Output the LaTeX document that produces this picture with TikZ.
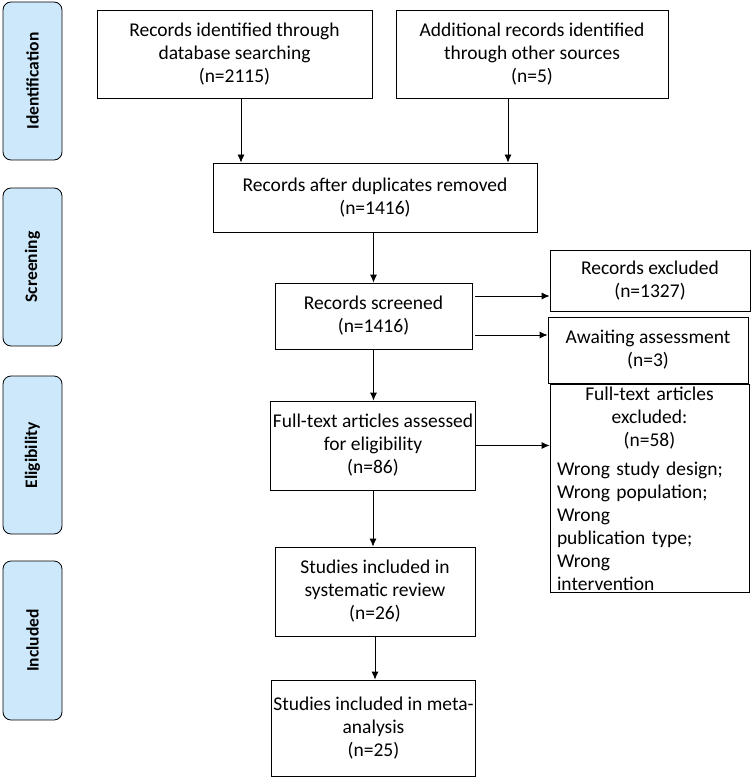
\documentclass[tikz,border=0pt]{standalone}
\usepackage{fontspec}
\setmainfont{Carlito}
\usetikzlibrary{arrows.meta}
\definecolor{phase}{RGB}{204,232,250}
\tikzset{
  box/.style={draw=black,thick,align=center,inner sep=2pt,
    font=\fontsize{19.5}{23}\selectfont},
  side/.style={draw=black,thick,rounded corners=8pt,fill=phase,rotate=90,
    font=\fontsize{17.5}{20}\selectfont\bfseries,minimum height=59pt},
  arr/.style={-{Latex[length=8pt,width=7pt]},thick}
}
\begin{document}
\begin{tikzpicture}[x=1pt,y=-1pt]
  \useasboundingbox (0,0) rectangle (752,778);

  \node[side,minimum width=158pt] (P1) at (32.5, 81) {Identification};
  \node[side,minimum width=158pt] (P2) at (32.5, 267) {Screening};
  \node[side,minimum width=158pt] (P3) at (32.5, 455) {Eligibility};
  \node[side,minimum width=159pt] (P4) at (32.5, 640.5) {Included};

  \node[box,minimum width=275pt,minimum height=88pt] (A) at (234.5, 54) {Records identified through\\database searching\\(n=2115)};
  \node[box,minimum width=272pt,minimum height=88pt] (B) at (532, 54) {Additional records identified\\through other sources\\(n=5)};
  \node[box,minimum width=324pt,minimum height=69pt] (C) at (375, 197.5) {Records after duplicates removed\\(n=1416)};
  \node[box,minimum width=197pt,minimum height=66pt] (D) at (373.5, 316) {Records screened\\(n=1416)};
  \node[box,minimum width=200pt,minimum height=61pt] (E) at (650, 280.5) {Records excluded\\(n=1327)};
  \node[box,minimum width=200pt,minimum height=66pt] (F) at (648, 350) {Awaiting assessment\\(n=3)};
  \node[box,minimum width=200pt,minimum height=89pt] (G) at (373, 445.5) {Full-text articles assessed\\for eligibility\\(n=86)};
  \node[box,minimum width=199pt,minimum height=173pt,align=left,text width=185pt] (H) at (649.5, 488.5) {\centering Full-text articles excluded:\\(n=58)\par\vspace{6pt}\raggedright Wrong study design;\\Wrong population; Wrong\\publication type; Wrong\\intervention\par};
  \node[box,minimum width=200pt,minimum height=89pt] (I) at (375, 591.5) {Studies included in\\systematic review\\(n=26)};
  \node[box,minimum width=197pt,minimum height=96pt] (J) at (373.5, 728) {Studies included in meta-\\analysis\\(n=25)};

  \coordinate (a1) at (241, 98);
  \coordinate (b1) at (508, 98);
  \draw[arr] (a1) -- (a1 |- C.north);
  \draw[arr] (b1) -- (b1 |- C.north);
  \draw[arr] (C.south -| D.north) -- (D.north);
  \coordinate (d1) at (475, 296);
  \coordinate (d2) at (475, 335);
  \draw[arr] (d1) -- (d1 -| E.west);
  \draw[arr] (d2) -- (d2 -| F.west);
  \draw[arr] (D.south) -- (D.south |- G.north);
  \draw[arr] (G.east) -- (G.east -| H.west);
  \draw[arr] (G.south) -- (G.south |- I.north);
  \draw[arr] (I.south) -- (I.south |- J.north);
\end{tikzpicture}
\end{document}
